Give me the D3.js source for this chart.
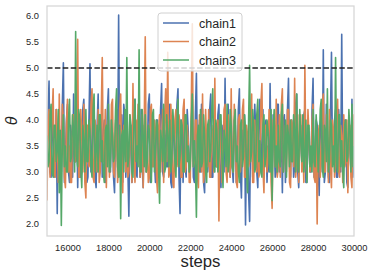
<!DOCTYPE html>
<html>
<head>
<meta charset="utf-8">
<script src="https://cdn.jsdelivr.net/npm/d3@7"></script>
<style>
  body { margin: 0; background: #fff; }
  text { font-family: "Liberation Sans", Arial, sans-serif; fill: #262626; }
</style>
</head>
<body>
<div id="chart"></div>
<script>
// trace values at steps 15000, 15100, ..., 30000
const chain1 = [
  3.4, 4.75, 2.9, 3.8, 3.1, 2.2, 3.9, 3.0, 5.1, 3.3,
  4.3, 2.8, 3.7, 4.5, 3.2, 2.7, 4.1, 3.0, 4.4, 3.5,
  2.9, 5.08, 3.1, 3.8, 2.7, 4.5, 3.3, 2.9, 4.0, 3.4,
  4.6, 3.0, 3.7, 2.6, 4.2, 6.02, 3.2, 2.8, 4.1, 3.5,
  2.15, 3.9, 3.3, 4.4, 2.9, 3.6, 4.2, 2.7, 3.8, 3.2,
  4.5, 3.0, 3.7, 2.8, 4.0, 3.4, 4.7, 2.9, 3.6, 3.1,
  4.3, 2.7, 3.9, 3.3, 4.6, 2.2, 3.5, 4.1, 2.9, 3.8,
  3.2, 4.4, 2.8, 4.9, 3.4, 3.0, 4.2, 2.6, 3.7, 3.3,
  4.5, 2.9, 3.8, 3.1, 4.3, 2.7, 3.6, 4.8, 3.0, 3.5,
  4.1, 2.8, 3.9, 3.2, 4.6, 2.5, 3.4, 1.98, 3.7, 2.05,
  4.2, 3.1, 3.8, 2.7, 4.4, 3.3, 2.9, 4.0, 3.5, 4.7,
  2.8, 3.6, 3.0, 4.3, 3.2, 2.6, 4.1, 3.4, 4.8, 2.9,
  3.7, 3.1, 4.5, 2.7, 3.9, 3.3, 4.2, 2.8, 3.6, 3.0,
  4.8, 3.2, 3.9, 2.55, 4.1, 5.35, 3.0, 3.7, 2.8, 5.3,
  3.4, 4.2, 2.9, 3.8, 5.65, 3.1, 4.0, 2.7, 3.6, 4.4,
  3.3
];
// trace values at steps 15050, 15150, ..., 29950
const chain1Mid = [
  4.1, 3.0, 4.0, 2.9, 4.2, 3.9, 3.1, 4.3, 2.8, 4.0,
  3.0, 3.9, 2.9, 3.2, 4.1, 3.8, 2.9, 4.2, 3.1, 2.8,
  4.0, 3.0, 4.3, 2.9, 3.9, 3.1, 4.1, 3.8, 2.8, 4.2,
  3.0, 4.0, 2.9, 3.9, 3.2, 3.0, 4.1, 4.3, 2.9, 3.1,
  3.8, 2.8, 4.2, 3.0, 4.0, 2.9, 3.1, 3.9, 3.0, 4.3,
  2.8, 4.1, 3.2, 4.0, 2.9, 4.2, 3.0, 3.8, 3.1, 4.1,
  2.8, 3.9, 3.0, 4.3, 2.9, 4.0, 2.8, 3.1, 4.2, 3.0,
  3.9, 2.9, 4.1, 3.2, 4.0, 4.3, 2.8, 3.8, 3.0, 4.2,
  2.9, 4.0, 3.1, 4.1, 2.8, 3.9, 3.0, 3.2, 4.3, 2.9,
  3.1, 4.0, 2.8, 4.2, 3.0, 3.8, 4.1, 3.6, 2.6, 3.9,
  2.9, 4.3, 3.0, 4.0, 3.1, 4.2, 3.9, 2.8, 3.0, 3.2,
  4.1, 2.9, 4.3, 3.0, 3.9, 4.0, 2.8, 4.2, 3.1, 4.0,
  2.9, 4.3, 3.0, 3.8, 3.2, 4.1, 2.8, 4.0, 3.0, 4.2,
  2.9, 4.0, 3.1, 3.9, 3.0, 2.8, 4.3, 2.9, 4.1, 3.2,
  4.0, 2.9, 4.2, 3.0, 3.1, 4.0, 2.8, 3.9, 3.0, 2.9
];
const chain2 = [
  2.45, 4.2, 3.3, 4.6, 2.9, 3.8, 4.5, 3.1, 4.0, 2.7,
  4.4, 3.5, 2.8, 4.1, 3.2, 5.55, 2.9, 3.7, 4.3, 2.5,
  3.9, 3.2, 4.6, 2.8, 3.6, 4.2, 3.0, 5.2, 3.4, 2.7,
  4.0, 3.3, 4.4, 2.9, 3.7, 3.1, 4.5, 2.6, 3.8, 4.1,
  3.0, 3.6, 4.7, 2.8, 3.4, 4.0, 3.2, 2.7, 5.6, 3.5,
  2.9, 4.3, 3.1, 3.8, 2.6, 4.1, 3.4, 2.8, 4.6, 5.3,
  3.0, 3.7, 2.7, 4.2, 3.3, 3.9, 2.9, 4.4, 3.1, 3.6,
  2.8, 5.85, 3.2, 4.0, 2.7, 3.8, 4.5, 3.0, 3.5, 4.2,
  2.9, 3.7, 4.8, 3.1, 2.06, 3.9, 3.4, 4.3, 2.8, 3.6,
  4.6, 3.0, 3.8, 2.7, 4.1, 3.3, 4.4, 2.9, 3.7, 3.2,
  4.5, 2.8, 3.6, 4.2, 3.0, 4.7, 2.6, 3.9, 3.3, 4.0,
  2.3, 3.8, 4.4, 3.1, 2.9, 4.6, 3.4, 3.0, 4.2, 2.7,
  3.9, 4.8, 3.2, 2.8, 4.1, 3.5, 5.05, 2.9, 3.7, 3.2,
  4.3, 2.8, 2.0, 3.9, 3.3, 4.5, 3.0, 3.6, 4.2, 2.7,
  3.8, 3.1, 4.4, 2.9, 3.7, 4.1, 3.2, 2.6, 3.9, 2.7,
  3.4
];
const chain2Mid = [
  4.0, 2.9, 4.1, 3.0, 4.2, 2.8, 3.1, 4.3, 2.9, 3.9,
  3.0, 2.8, 4.1, 3.2, 4.0, 2.9, 4.2, 3.0, 2.8, 3.9,
  3.1, 4.3, 2.9, 4.0, 3.0, 2.8, 4.1, 3.2, 4.2, 3.8,
  2.9, 4.3, 3.0, 4.0, 2.8, 4.2, 3.1, 3.9, 3.0, 2.9,
  4.1, 2.8, 3.2, 4.0, 4.3, 2.9, 4.1, 3.9, 3.0, 2.8,
  4.2, 3.1, 4.0, 2.9, 3.8, 3.0, 4.2, 4.1, 3.2, 2.9,
  4.3, 2.8, 4.0, 3.1, 4.1, 2.9, 4.2, 3.0, 3.9, 2.8,
  4.3, 3.1, 4.0, 2.9, 4.1, 3.0, 2.8, 4.2, 3.1, 2.9,
  3.9, 3.0, 3.2, 4.0, 3.8, 2.8, 4.2, 3.0, 4.1, 2.9,
  3.1, 4.3, 2.8, 4.0, 3.0, 4.2, 2.9, 3.9, 3.1, 4.1,
  2.8, 4.0, 3.0, 2.9, 4.3, 3.1, 3.9, 3.0, 4.2, 2.8,
  4.0, 3.1, 2.9, 4.1, 4.3, 3.0, 3.9, 4.2, 2.8, 4.0,
  3.1, 2.9, 4.1, 3.8, 3.0, 2.8, 3.2, 4.2, 3.0, 4.0,
  2.9, 3.9, 3.7, 2.9, 4.3, 3.0, 4.1, 2.8, 3.1, 4.0,
  2.9, 4.2, 3.0, 3.9, 2.8, 3.1, 4.0, 3.8, 2.9, 4.1
];
const chain3 = [
  3.7, 3.2, 4.3, 2.9, 3.9, 3.4, 2.6, 1.97, 4.1, 3.5,
  3.0, 4.4, 3.3, 3.8, 5.7, 3.1, 4.0, 2.7, 3.6, 4.2,
  3.2, 3.8, 2.9, 4.5, 3.4, 3.0, 4.1, 3.6, 2.8, 3.9,
  4.3, 3.1, 3.7, 3.3, 4.6, 2.9, 2.1, 3.8, 4.2, 5.2,
  3.3, 3.9, 2.9, 4.4, 3.5, 5.35, 3.0, 3.7, 4.1, 3.2,
  3.8, 2.8, 4.2, 3.4, 3.9, 2.4, 3.6, 4.3, 3.1, 3.7,
  4.0, 3.2, 3.8, 2.9, 4.4, 3.3, 3.9, 3.0, 4.1, 3.5,
  3.1, 4.5, 3.6, 2.13, 3.9, 4.2, 3.2, 3.7, 2.8, 4.0,
  3.4, 4.6, 3.0, 3.8, 3.3, 4.1, 2.7, 3.6, 4.3, 3.2,
  3.9, 3.0, 4.2, 3.5, 2.8, 4.0, 3.3, 3.8, 2.6, 5.05,
  3.4, 3.9, 3.1, 4.4, 3.6, 2.9, 4.1, 3.3, 3.8, 3.0,
  2.45, 4.2, 3.5, 3.9, 3.1, 4.3, 3.4, 2.9, 3.7, 4.0,
  3.2, 3.8, 4.5, 3.0, 3.6, 4.1, 3.3, 2.8, 3.9, 3.5,
  4.2, 3.1, 3.7, 3.4, 4.4, 2.9, 3.8, 4.6, 3.2, 3.9,
  3.5, 5.2, 3.0, 4.1, 3.6, 2.7, 4.0, 3.3, 3.8, 4.3,
  3.5
];
const chain3Mid = [
  3.1, 4.1, 3.0, 3.9, 3.2, 4.2, 3.8, 3.6, 3.1, 3.0,
  4.0, 3.2, 4.1, 3.0, 3.3, 4.2, 3.1, 3.9, 3.0, 3.2,
  4.0, 3.1, 4.2, 3.0, 3.9, 4.1, 3.2, 3.0, 3.8, 3.1,
  3.0, 4.0, 3.2, 4.2, 3.1, 3.9, 3.7, 3.0, 3.2, 3.1,
  4.1, 3.0, 4.0, 3.2, 3.1, 3.0, 4.2, 3.1, 3.0, 3.9,
  3.2, 4.1, 3.0, 4.0, 3.1, 3.8, 3.2, 3.0, 4.1, 3.1,
  3.0, 4.2, 3.2, 3.9, 3.1, 4.0, 3.0, 4.1, 3.2, 3.0,
  4.0, 3.1, 3.2, 3.7, 3.0, 3.1, 4.1, 3.0, 3.9, 3.2,
  4.2, 3.1, 4.0, 3.0, 4.1, 3.2, 3.8, 3.1, 3.0, 4.2,
  3.1, 4.0, 3.2, 3.0, 3.9, 3.1, 4.1, 3.0, 4.0, 3.2,
  4.2, 3.0, 4.1, 3.2, 3.0, 3.9, 3.1, 4.0, 3.2, 4.2,
  3.8, 3.1, 3.0, 3.2, 4.1, 3.0, 4.0, 3.9, 3.1, 3.2,
  4.1, 3.0, 3.1, 4.2, 3.2, 3.0, 4.0, 3.9, 3.1, 3.0,
  3.2, 4.1, 3.0, 4.2, 3.1, 3.9, 3.2, 3.0, 4.0, 3.1,
  3.0, 3.2, 4.1, 3.1, 3.0, 3.9, 3.2, 4.2, 3.0, 3.1
];
const chainNames = ["chain1", "chain2", "chain3"];
const chainColors = ["#4c72b0", "#dd8452", "#55a868"];
const xTicks = [16000, 18000, 20000, 22000, 24000, 26000, 28000, 30000];
const yTicks = [2.0, 2.5, 3.0, 3.5, 4.0, 4.5, 5.0, 5.5, 6.0];
const threshold = 5.0;

const width = 374, height = 278;
const margin = {top: 6, right: 20, bottom: 42, left: 47};

// merge the two sample sets of each chain into one ordered trace
function trace(main, mid) {
  const pts = [];
  main.forEach((v, i) => pts.push([15000 + 100 * i, v]));
  mid.forEach((v, i) => pts.push([15050 + 100 * i, v]));
  return pts.sort((a, b) => a[0] - b[0]);
}
const traces = [trace(chain1, chain1Mid), trace(chain2, chain2Mid), trace(chain3, chain3Mid)];

const svg = d3.select("#chart").append("svg")
    .attr("width", width)
    .attr("height", height);

const x = d3.scaleLinear().domain([15000, 30000]).range([margin.left, width - margin.right]);
const y = d3.scaleLinear().domain([1.769, 6.192]).range([height - margin.bottom, margin.top]);

svg.append("defs").append("clipPath").attr("id", "plot-clip")
  .append("rect")
    .attr("x", margin.left).attr("y", margin.top)
    .attr("width", width - margin.left - margin.right)
    .attr("height", height - margin.top - margin.bottom);

// the traces
const line = d3.line()
    .x(d => x(d[0]))
    .y(d => y(d[1]));

const plot = svg.append("g").attr("clip-path", "url(#plot-clip)");
traces.forEach((t, k) => {
  plot.append("path")
      .datum(t)
      .attr("fill", "none")
      .attr("stroke", chainColors[k])
      .attr("stroke-width", 1.6)
      .attr("stroke-linejoin", "round")
      .attr("d", line);
});

// dashed reference line
svg.append("line")
    .attr("x1", margin.left).attr("x2", width - margin.right)
    .attr("y1", y(threshold)).attr("y2", y(threshold))
    .attr("stroke", "#222")
    .attr("stroke-width", 1.5)
    .attr("stroke-dasharray", "5.5,2.4");

// axes, no tick marks
const xAxis = svg.append("g")
    .attr("transform", `translate(0,${height - margin.bottom})`)
    .call(d3.axisBottom(x).tickValues(xTicks).tickSize(0).tickPadding(8.5).tickFormat(d3.format("d")));
const yAxis = svg.append("g")
    .attr("transform", `translate(${margin.left},0)`)
    .call(d3.axisLeft(y).tickValues(yTicks).tickSize(0).tickPadding(8).tickFormat(d3.format(".1f")));
[xAxis, yAxis].forEach(a => {
  a.select(".domain").remove();
  a.selectAll("text").attr("font-size", 9.3).attr("fill", "#262626")
    .style("font-family", '"Liberation Sans", Arial, sans-serif');
});

// frame
svg.append("rect")
    .attr("x", margin.left).attr("y", margin.top)
    .attr("width", width - margin.left - margin.right)
    .attr("height", height - margin.top - margin.bottom)
    .attr("fill", "none")
    .attr("stroke", "#d6d6d6")
    .attr("stroke-width", 1.25);

// axis labels
svg.append("text")
    .attr("x", (margin.left + width - margin.right) / 2)
    .attr("y", 267)
    .attr("text-anchor", "middle")
    .attr("font-size", 16.7)
    .text("steps");

svg.append("text")
    .attr("transform", `translate(17,${(margin.top + height - margin.bottom) / 2}) rotate(-90)`)
    .attr("text-anchor", "middle")
    .attr("font-size", 16)
    .attr("font-style", "italic")
    .text("θ");

// legend
const legend = svg.append("g");
legend.append("rect")
    .attr("x", 158).attr("y", 13)
    .attr("width", 84).attr("height", 58)
    .attr("rx", 3)
    .attr("fill", "#fff").attr("fill-opacity", 0.8)
    .attr("stroke", "#d0d0d0").attr("stroke-width", 1);
chainNames.forEach((name, k) => {
  const cy = 23 + k * 18.5;
  legend.append("line")
      .attr("x1", 163).attr("x2", 189)
      .attr("y1", cy).attr("y2", cy)
      .attr("stroke", chainColors[k]).attr("stroke-width", 1.5);
  legend.append("text")
      .attr("x", 199).attr("y", cy + 4.5)
      .attr("font-size", 12.5)
      .text(name);
});
</script>
</body>
</html>
